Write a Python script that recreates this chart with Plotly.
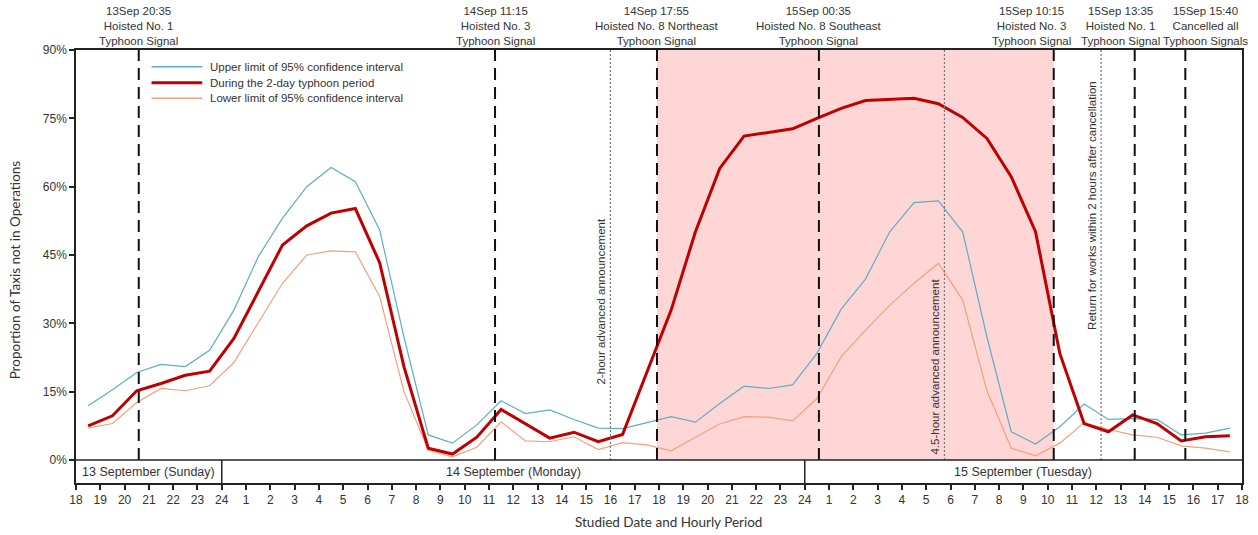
import plotly.graph_objects as go

# Hourly periods from 13 Sep 18:00 to 15 Sep 18:00 (48 one-hour periods)
hour_ticks = ["18", "19", "20", "21", "22", "23", "24",
              "1", "2", "3", "4", "5", "6", "7", "8", "9", "10", "11", "12",
              "13", "14", "15", "16", "17", "18", "19", "20", "21", "22", "23", "24",
              "1", "2", "3", "4", "5", "6", "7", "8", "9", "10", "11", "12",
              "13", "14", "15", "16", "17", "18"]
period_index = list(range(48))

# Proportion of taxis not in operation (%), one value per hourly period
during_typhoon = [7.5, 9.7, 15.2, 16.8, 18.6, 19.5, 26.7, 36.9, 47.2, 51.4, 54.2, 55.2,
                  43.3, 20.5, 2.6, 1.3, 5.0, 11.1, 7.9, 4.8, 6.1, 4.0, 5.6, 19.2,
                  32.9, 50.1, 64.0, 71.1, 71.9, 72.7, 75.0, 77.2, 78.9, 79.2, 79.4, 78.2,
                  75.2, 70.6, 62.2, 50.1, 23.4, 8.0, 6.2, 9.9, 8.0, 4.2, 5.1, 5.3]
upper_ci = [11.9, 15.4, 19.2, 21.0, 20.5, 24.1, 32.9, 44.6, 53.1, 60.0, 64.2, 61.1,
            50.5, 27.0, 5.5, 3.7, 7.7, 13.0, 10.2, 11.0, 8.9, 7.0, 6.9, 8.2,
            9.5, 8.3, 12.4, 16.2, 15.7, 16.5, 23.4, 33.1, 39.7, 50.1, 56.5, 56.9,
            50.1, 27.0, 6.2, 3.5, 7.3, 12.3, 8.9, 9.1, 8.9, 5.5, 5.9, 7.0]
lower_ci = [7.0, 8.0, 12.6, 15.7, 15.2, 16.3, 21.4, 30.0, 38.8, 45.0, 45.9, 45.7,
            35.9, 15.0, 2.2, 0.7, 2.8, 8.4, 4.2, 4.0, 5.1, 2.3, 3.8, 3.3,
            2.0, 5.0, 7.9, 9.5, 9.4, 8.6, 13.5, 22.7, 28.5, 34.0, 38.8, 43.2,
            35.1, 15.2, 2.6, 0.9, 3.7, 8.2, 6.7, 5.5, 5.0, 3.1, 2.6, 1.8]

# Typhoon signal events (hours after 13 Sep 18:00)
signal_hours = [2 + 35 / 60, 17 + 15 / 60, 23 + 55 / 60, 30 + 35 / 60,
                40 + 15 / 60, 43 + 35 / 60, 45 + 40 / 60]
signal_labels = ["13Sep 20:35<br>Hoisted No. 1<br>Typhoon Signal",
                 "14Sep 11:15<br>Hoisted No. 3<br>Typhoon Signal",
                 "14Sep 17:55<br>Hoisted No. 8 Northeast<br>Typhoon Signal",
                 "15Sep 00:35<br>Hoisted No. 8 Southeast<br>Typhoon Signal",
                 "15Sep 10:15<br>Hoisted No. 3<br>Typhoon Signal",
                 "15Sep 13:35<br>Hoisted No. 1<br>Typhoon Signal",
                 "15Sep 15:40<br>Cancelled all<br>Typhoon Signals"]
label_shift = [0, 0, 0, 0, -22, -14, 20]

# Announcement markers
note_hours = [22.0, 35.75, 42.2]
note_labels = ["2-hour advanced announcement",
               "4.5-hour advanced announcement",
               "Return for works within 2 hours after cancellation"]
note_levels = [34.9, 20.6, 55.8]

# Day bands under the plot
day_bounds = [0, 6, 30, 48]
day_labels = ["13 September (Sunday)", "14 September (Monday)", "15 September (Tuesday)"]

W, H = 1258, 535
L, R, T, B = 76, 1249, 50, 483
Y_MIN, Y_MAX = -5.05, 90

def px_x(p):
    return (p - L) / (R - L)

def px_y(p):
    return (B - p) / (B - T)

x_mid = [i + 0.5 for i in period_index]

BLUE = "#5DAFC2"
RED = "#C00000"
ORANGE = "#F2A27A"
TEXT = "#333333"
ARIAL = "Liberation Sans, Arial, sans-serif"

fig = go.Figure()
fig.add_trace(go.Scatter(x=x_mid, y=upper_ci, mode="lines",
                         line=dict(color=BLUE, width=1.2),
                         name="Upper limit of 95% confidence interval"))
fig.add_trace(go.Scatter(x=x_mid, y=lower_ci, mode="lines",
                         line=dict(color=ORANGE, width=1.2),
                         name="Lower limit of 95% confidence interval"))
fig.add_trace(go.Scatter(x=x_mid, y=during_typhoon, mode="lines",
                         line=dict(color=RED, width=3),
                         name="During the 2-day typhoon period"))

shapes = []
# No. 8 signal period
shapes.append(dict(type="rect", xref="x", yref="y", x0=signal_hours[2], x1=signal_hours[4],
                   y0=0, y1=Y_MAX, fillcolor="#FFD6D6", line=dict(width=0), layer="below"))
# Signal lines
for h in signal_hours:
    shapes.append(dict(type="line", xref="x", yref="y", x0=h, x1=h, y0=0, y1=Y_MAX,
                       line=dict(color="#111111", width=2, dash="12px,7px")))
# Announcement lines
for h in note_hours:
    shapes.append(dict(type="line", xref="x", yref="y", x0=h, x1=h, y0=0, y1=Y_MAX,
                       line=dict(color="#777777", width=1.2, dash="2px,2px")))
# Baseline and day band separators
shapes.append(dict(type="line", xref="x", yref="y", x0=0, x1=48, y0=0, y1=0,
                   line=dict(color="#222222", width=1.5)))
for h in day_bounds[1:-1]:
    shapes.append(dict(type="line", xref="x", yref="y", x0=h, x1=h, y0=Y_MIN, y1=0,
                       line=dict(color="#222222", width=1.5)))

annotations = []
for h, txt, s in zip(signal_hours, signal_labels, label_shift):
    annotations.append(dict(x=h, xref="x", y=px_y(49), yref="paper", text=txt,
                            showarrow=False, xanchor="center", yanchor="bottom",
                            xshift=s, align="center",
                            font=dict(family=ARIAL, size=11.5, color=TEXT)))
for h, txt, lv in zip(note_hours, note_labels, note_levels):
    annotations.append(dict(x=h, xref="x", y=lv, yref="y", text=txt, textangle=-90,
                            showarrow=False, xanchor="center", yanchor="middle",
                            xshift=-9, font=dict(family=ARIAL, size=11.5, color=TEXT)))
for i, txt in enumerate(day_labels):
    annotations.append(dict(x=(day_bounds[i] + day_bounds[i + 1]) / 2, xref="x",
                            y=Y_MIN / 2, yref="y", text=txt, showarrow=False,
                            xanchor="center", yanchor="middle",
                            font=dict(family=ARIAL, size=12.5, color=TEXT)))

# Legend drawn inside the plot
legend_rows = [("Upper limit of 95% confidence interval", BLUE, 1.5, 66.7),
               ("During the 2-day typhoon period", RED, 3, 82.7),
               ("Lower limit of 95% confidence interval", ORANGE, 1.5, 98.3)]
for txt, col, w, py in legend_rows:
    shapes.append(dict(type="line", xref="paper", yref="paper",
                       x0=px_x(152), x1=px_x(203), y0=px_y(py), y1=px_y(py),
                       line=dict(color=col, width=w)))
    annotations.append(dict(x=px_x(209), xref="paper", y=px_y(py), yref="paper",
                            text=txt, showarrow=False, xanchor="left", yanchor="middle",
                            font=dict(family=ARIAL, size=11.5, color=TEXT)))

# Axis titles
annotations.append(dict(x=px_x(672), xref="paper", y=px_y(522), yref="paper",
                        text="Studied Date and Hourly Period", showarrow=False,
                        xanchor="center", yanchor="middle",
                        font=dict(family="Lato, sans-serif", size=13.5, color=TEXT)))
annotations.append(dict(x=px_x(15), xref="paper", y=px_y(270), yref="paper",
                        text="Proportion of Taxis not in Operations", showarrow=False,
                        textangle=-90, xanchor="center", yanchor="middle",
                        font=dict(family="Lato, sans-serif", size=13.5, color=TEXT)))

fig.update_layout(
    width=W, height=H,
    margin=dict(l=L, r=W - R, t=T, b=H - B, pad=0),
    paper_bgcolor="white", plot_bgcolor="white",
    showlegend=False,
    shapes=shapes, annotations=annotations,
    xaxis=dict(range=[0, 48], tickvals=list(range(49)), ticktext=hour_ticks,
               ticks="outside", ticklen=5, tickwidth=1.5, tickcolor="#222222",
               showline=True, linecolor="#222222", linewidth=1.5, mirror=True,
               showgrid=False, zeroline=False,
               tickfont=dict(family=ARIAL, size=12, color=TEXT)),
    yaxis=dict(range=[Y_MIN, Y_MAX], tickvals=[0, 15, 30, 45, 60, 75, 90],
               ticktext=["0%", "15%", "30%", "45%", "60%", "75%", "90%"],
               ticks="outside", ticklen=5, tickwidth=1.5, tickcolor="#222222",
               showline=True, linecolor="#222222", linewidth=1.5, mirror=True,
               showgrid=False, zeroline=False,
               tickfont=dict(family=ARIAL, size=12, color=TEXT)),
)

fig.write_html("out.html")
